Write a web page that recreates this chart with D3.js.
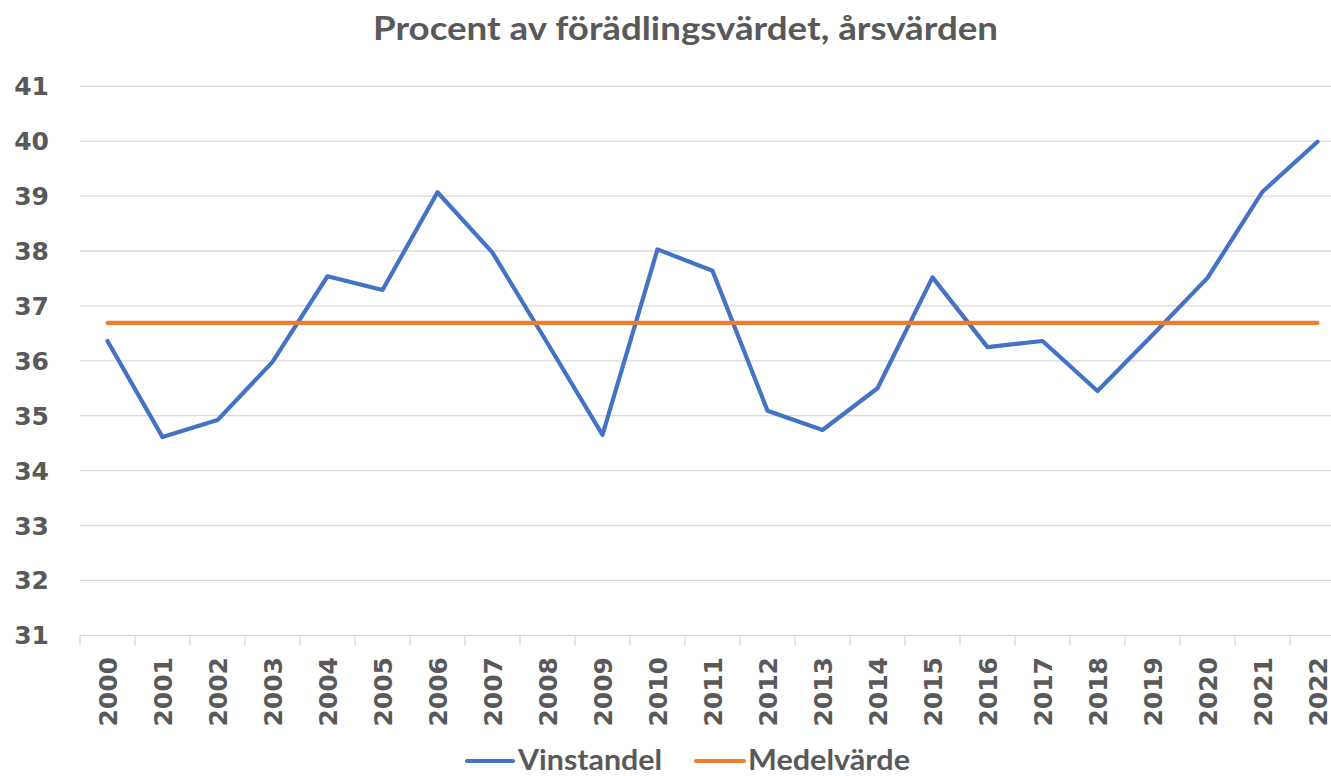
<!DOCTYPE html>
<html>
<head>
<meta charset="utf-8">
<script src="https://cdn.jsdelivr.net/npm/d3@7"></script>
<style>
  html, body { margin: 0; padding: 0; background: #ffffff; }
  svg { display: block; }
</style>
</head>
<body>
<svg id="chart" width="1331" height="776"></svg>
<script>
const years = ["2000","2001","2002","2003","2004","2005","2006","2007","2008","2009","2010","2011","2012","2013","2014","2015","2016","2017","2018","2019","2020","2021","2022"];
const vinstandel = [36.36,34.61,34.92,35.98,37.54,37.29,39.07,37.97,36.32,34.65,38.03,37.64,35.09,34.74,35.5,37.52,36.25,36.36,35.45,36.47,37.51,39.08,39.99];
const medelvarde = [36.69,36.69,36.69,36.69,36.69,36.69,36.69,36.69,36.69,36.69,36.69,36.69,36.69,36.69,36.69,36.69,36.69,36.69,36.69,36.69,36.69,36.69,36.69];
const yTicks = [31,32,33,34,35,36,37,38,39,40,41];
const seriesNames = ["Vinstandel", "Medelvärde"];
const titleText = "Procent av förädlingsvärdet, årsvärden";

const colors = ["#4472C4", "#ED7D31"];
const textColor = "#595959";
const gridColor = "#d9d9d9";

const svg = d3.select("#chart");
const x = d3.scaleBand().domain(years).range([80, 1345]).padding(0);
const y = d3.scaleLinear().domain([31, 41]).range([635.3, 86.3]);
const bw = x.bandwidth();
const cx = d => x(d) + bw / 2;

// Title
svg.append("text")
  .attr("x", 685.5).attr("y", 40)
  .attr("text-anchor", "middle")
  .attr("font-family", "Lato, 'Open Sans', sans-serif")
  .attr("font-weight", "bold")
  .attr("font-size", 32)
  .attr("fill", textColor)
  .attr("textLength", 625)
  .attr("lengthAdjust", "spacingAndGlyphs")
  .text(titleText);

// Gridlines
svg.append("g").selectAll("line")
  .data(yTicks.filter(t => t > 31))
  .join("line")
  .attr("x1", 80).attr("x2", 1345)
  .attr("y1", d => y(d)).attr("y2", d => y(d))
  .attr("stroke", gridColor).attr("stroke-width", 1.3);

// Y labels
svg.append("g").selectAll("text")
  .data(yTicks)
  .join("text")
  .attr("x", 49).attr("y", d => y(d))
  .attr("dy", "0.36em")
  .attr("text-anchor", "end")
  .attr("font-family", "'DejaVu Sans', sans-serif")
  .attr("font-weight", "bold")
  .attr("font-size", 25)
  .attr("fill", textColor)
  .text(d => d);

// X axis line
svg.append("line")
  .attr("x1", 80).attr("x2", 1345)
  .attr("y1", y(31)).attr("y2", y(31))
  .attr("stroke", gridColor).attr("stroke-width", 1.3);

// X tick marks at band boundaries
svg.append("g").selectAll("line")
  .data(years)
  .join("line")
  .attr("x1", d => x(d)).attr("x2", d => x(d))
  .attr("y1", y(31)).attr("y2", y(31) + 10)
  .attr("stroke", gridColor).attr("stroke-width", 1.3);

// X labels
svg.append("g").selectAll("text")
  .data(years)
  .join("text")
  .attr("transform", d => `translate(${cx(d)},657) rotate(-90)`)
  .attr("dy", "0.36em")
  .attr("text-anchor", "end")
  .attr("font-family", "'DejaVu Sans', sans-serif")
  .attr("font-weight", "bold")
  .attr("font-size", 25)
  .attr("fill", textColor)
  .text(d => d);

// Lines
const line = d3.line().x((d, i) => cx(years[i])).y(d => y(d));
[vinstandel, medelvarde].forEach((s, k) => {
  svg.append("path")
    .datum(s)
    .attr("d", line)
    .attr("fill", "none")
    .attr("stroke", colors[k])
    .attr("stroke-width", 4.2)
    .attr("stroke-linejoin", "round")
    .attr("stroke-linecap", "round");
});

// Legend
const legendItems = [
  { name: seriesNames[0], color: colors[0], x1: 467, x2: 513, tx: 518, tw: 144 },
  { name: seriesNames[1], color: colors[1], x1: 696, x2: 744, tx: 748, tw: 162 }
];
const lg = svg.append("g");
legendItems.forEach(it => {
  lg.append("line")
    .attr("x1", it.x1).attr("x2", it.x2)
    .attr("y1", 761).attr("y2", 761)
    .attr("stroke", it.color).attr("stroke-width", 4.2)
    .attr("stroke-linecap", "round");
  lg.append("text")
    .attr("x", it.tx).attr("y", 770)
    .attr("font-family", "Lato, 'Open Sans', sans-serif")
    .attr("font-weight", "bold")
    .attr("font-size", 28)
    .attr("fill", textColor)
    .attr("textLength", it.tw)
    .attr("lengthAdjust", "spacingAndGlyphs")
    .text(it.name);
});
</script>
</body>
</html>
